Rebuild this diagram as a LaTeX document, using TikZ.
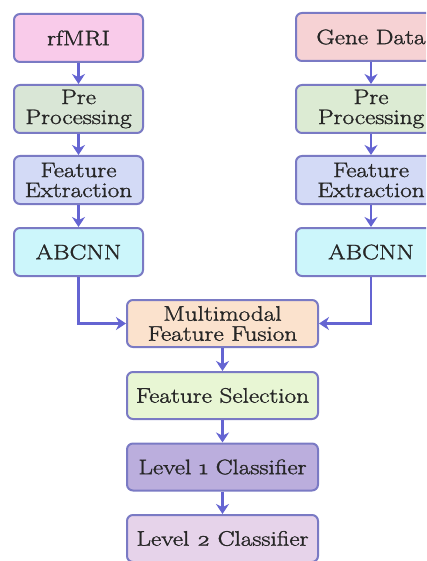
\documentclass[tikz,border=0pt]{standalone}
\usepackage{fontspec}
\newfontfamily\boxfont[FakeStretch=1.2, FakeBold=1.5]{Latin Modern Roman}
\usetikzlibrary{arrows.meta}
\definecolor{bordc}{HTML}{7A7AC4}
\definecolor{arrc}{HTML}{6464D2}
\definecolor{txtc}{HTML}{262626}
\definecolor{cpink}{HTML}{F9CBEA}
\definecolor{cgreen}{HTML}{D9E6D6}
\definecolor{clav}{HTML}{D3DAF6}
\definecolor{ccyan}{HTML}{CCF6FB}
\definecolor{csalm}{HTML}{F6D2D4}
\definecolor{cgreen2}{HTML}{DCEBD3}
\definecolor{cpeach}{HTML}{FBE2CD}
\definecolor{clime}{HTML}{E8F6D4}
\definecolor{cpurp}{HTML}{BBAEDD}
\definecolor{cmauve}{HTML}{E6D3EA}
\tikzset{
  box/.style={draw=bordc, line width=2pt, rounded corners=6pt, align=center,
    text=txtc, font=\boxfont\fontsize{21}{20}\selectfont, inner sep=0pt},
  lbox/.style={box, minimum width=129pt, minimum height=48pt},
  rbox/.style={box, minimum width=150pt, minimum height=48pt},
  cbox/.style={box, minimum width=191pt, minimum height=47pt},
  arr/.style={draw=arrc, line width=2.5pt, -{Stealth[length=10pt,width=13pt]}},
}
\begin{document}
\begin{tikzpicture}[x=1pt,y=-1pt]
\useasboundingbox (0,0) rectangle (426,561);
\clip (0,0) rectangle (426,561);
\fill[white] (0,0) rectangle (426,561);
% left column
\node[lbox, fill=cpink]  (rf)  at (78.5,38)  {rfMRI};
\node[lbox, fill=cgreen] (ppl) at (78.5,109) {Pre\\Processing};
\node[lbox, fill=clav]   (fel) at (78.5,180) {Feature\\Extraction};
\node[lbox, fill=ccyan]  (abl) at (78.5,252) {ABCNN};
% right column
\node[rbox, fill=csalm]   (gd)  at (371,37)  {Gene Data};
\node[rbox, fill=cgreen2] (ppr) at (371,109) {Pre\\Processing};
\node[rbox, fill=clav]    (fer) at (371,180) {Feature\\Extraction};
\node[rbox, fill=ccyan]   (abr) at (371,252) {ABCNN};
% centre column
\node[cbox, fill=cpeach] (fus) at (222.5,323.5) {Multimodal\\Feature Fusion};
\node[cbox, fill=clime]  (fs)  at (222.5,395.5) {Feature Selection};
\node[cbox, fill=cpurp]  (l1)  at (222.5,467)   {Level \oldstylenums{1} Classifier};
\node[cbox, fill=cmauve] (l2)  at (222.5,538.5) {Level \oldstylenums{2} Classifier};
% arrows
\draw[arr] (rf) -- (ppl);
\draw[arr] (ppl) -- (fel);
\draw[arr] (fel) -- (abl);
\draw[arr] (gd) -- (ppr);
\draw[arr] (ppr) -- (fer);
\draw[arr] (fer) -- (abr);
\draw[arr] (abl.south) |- (fus.west);
\draw[arr] (abr.south) |- (fus.east);
\draw[arr] (fus) -- (fs);
\draw[arr] (fs) -- (l1);
\draw[arr] (l1) -- (l2);
\end{tikzpicture}
\end{document}
